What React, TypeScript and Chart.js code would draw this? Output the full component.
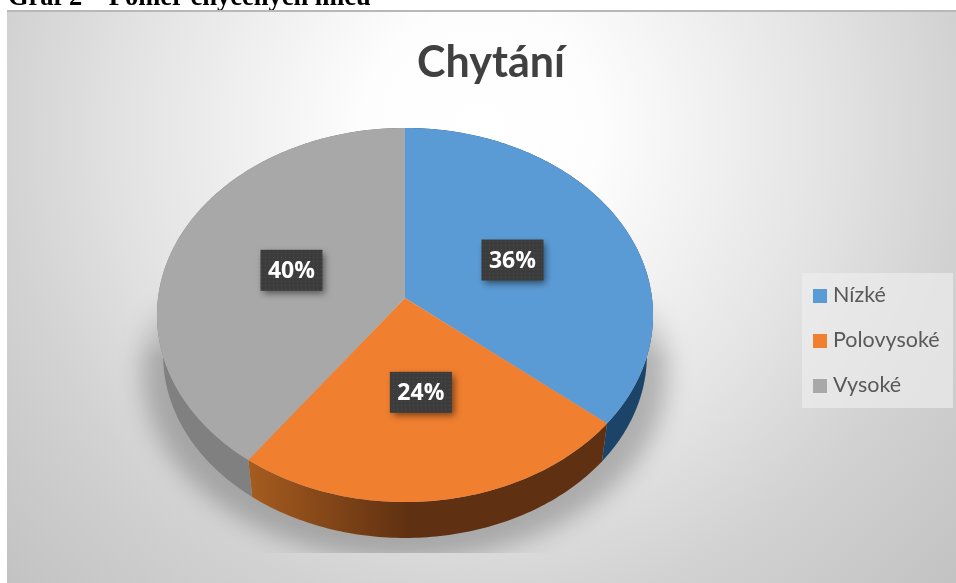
import React, { useEffect, useRef } from "react";
import { Chart, registerables } from "chart.js";

Chart.register(...registerables);

const categories = ["Nízké", "Polovysoké", "Vysoké"];
const shares = [36, 24, 40];
const sliceColors = ["#5b9bd5", "#f07f2f", "#a8a8a8"];
const sideColors = [
  ["#1f4c75", "#1c4468"],
  ["#a65c1f", "#5f3011"],
  ["#808080", "#727272"],
];
const headingText = "Graf 2 – Poměr chycených míčů";
const chartTitle = "Chytání";

// Tilted-disc projection: depth axis foreshortened, near edge slightly enlarged.
const TILT_X = 0.996;
const TILT_Y = 0.748;
const NEAR_GAIN = 0.0909;
// The lower rim sits further from the viewer, so it is a little smaller and shifted down.
const LOWER_SCALE = 0.975;
const LOWER_SHIFT = 41;

type Arc = { x: number; y: number; outerRadius: number; startAngle: number; endAngle: number };
type Pt = { x: number; y: number };

function project(arc: Arc, angle: number, rho = 1): Pt {
  const X = Math.cos(angle) * rho;
  const Y = Math.sin(angle) * rho;
  const w = 1 - NEAR_GAIN * Y;
  return {
    x: arc.x + (arc.outerRadius * TILT_X * X) / w,
    y: arc.y + (arc.outerRadius * TILT_Y * Y) / w,
  };
}

function lowered(arc: Arc, p: Pt): Pt {
  return {
    x: arc.x + (p.x - arc.x) * LOWER_SCALE,
    y: arc.y + (p.y - arc.y) * LOWER_SCALE + LOWER_SHIFT,
  };
}

function rim(ctx: CanvasRenderingContext2D, arc: Arc, from: number, to: number, lower: boolean, first: boolean) {
  const n = Math.max(8, Math.ceil(Math.abs(to - from) * 60));
  for (let i = 0; i <= n; i++) {
    let p = project(arc, from + ((to - from) * i) / n);
    if (lower) p = lowered(arc, p);
    if (i === 0 && first) ctx.moveTo(p.x, p.y);
    else ctx.lineTo(p.x, p.y);
  }
}

function labelBox(ctx: CanvasRenderingContext2D, cx: number, cy: number, text: string, dots: CanvasPattern | null) {
  const w = 62;
  const h = 41;
  ctx.save();
  ctx.shadowColor = "rgba(0,0,0,0.5)";
  ctx.shadowBlur = 7;
  ctx.shadowOffsetX = 3;
  ctx.shadowOffsetY = 3;
  ctx.fillStyle = "#3c3c3c";
  ctx.fillRect(cx - w / 2, cy - h / 2, w, h);
  ctx.restore();
  if (dots) {
    ctx.fillStyle = dots;
    ctx.fillRect(cx - w / 2, cy - h / 2, w, h);
  }
  ctx.fillStyle = "#ffffff";
  ctx.font = 'bold 23px "Open Sans"';
  ctx.textAlign = "center";
  ctx.textBaseline = "middle";
  ctx.fillText(text, cx, cy + 1);
}

const panelPlugin = {
  id: "panel",
  beforeDraw(chart: Chart) {
    const { ctx, width, height } = chart;
    ctx.save();
    ctx.fillStyle = "#ffffff";
    ctx.fillRect(0, 0, width, height);
    ctx.fillStyle = "#000000";
    ctx.font = 'bold 26.5px "Liberation Serif"';
    ctx.textAlign = "left";
    ctx.textBaseline = "alphabetic";
    ctx.fillText(headingText, 8, 4.5);

    // Panel with a soft light centre fading to grey at the corners.
    ctx.beginPath();
    ctx.rect(7, 10, width - 7, height - 10);
    ctx.clip();
    const g = ctx.createRadialGradient(480, 130, 0, 480, 130, 660);
    g.addColorStop(0, "#ffffff");
    g.addColorStop(0.18, "#fdfdfd");
    g.addColorStop(0.52, "#e4e4e4");
    g.addColorStop(0.73, "#d2d2d2");
    g.addColorStop(1, "#c2c2c2");
    ctx.fillStyle = g;
    ctx.fillRect(0, 0, width, height);
    ctx.fillStyle = "#b8b8b8";
    ctx.fillRect(7, 10, width - 7, 2);
    ctx.restore();
  },
  beforeDatasetDraw(chart: Chart) {
    const { ctx, width, height } = chart;
    const arcs = chart.getDatasetMeta(0).data as unknown as Arc[];
    const whole = arcs[0];

    // Soft floor shadow: a wider, lower disc that fades in downwards and stops at the floor edge.
    const layer = document.createElement("canvas");
    layer.width = width;
    layer.height = height;
    const lc = layer.getContext("2d")!;
    lc.filter = "blur(12px)";
    lc.fillStyle = "rgba(0,0,0,0.24)";
    lc.beginPath();
    lc.ellipse(whole.x, 372, 262, 188, 0, 0, Math.PI * 2);
    lc.fill();
    lc.filter = "none";
    lc.globalCompositeOperation = "destination-in";
    const fade = lc.createLinearGradient(0, 285, 0, 360);
    fade.addColorStop(0, "rgba(0,0,0,0)");
    fade.addColorStop(1, "rgba(0,0,0,1)");
    lc.fillStyle = fade;
    lc.fillRect(0, 0, width, height);
    ctx.save();
    ctx.beginPath();
    ctx.rect(7, 285, width - 7, 268);
    ctx.clip();
    ctx.drawImage(layer, 0, 0);
    ctx.restore();

    // Extruded side wall of each slice.
    arcs.forEach((arc, i) => {
      const a = project(arc, arc.startAngle);
      const b = project(arc, arc.endAngle);
      const left = Math.min(a.x, b.x);
      const right = Math.max(a.x, b.x);
      const g = ctx.createLinearGradient(left, 0, left + (right - left) * 0.45, 0);
      g.addColorStop(0, sideColors[i][0]);
      g.addColorStop(1, sideColors[i][1]);
      ctx.fillStyle = g;
      ctx.beginPath();
      rim(ctx, arc, arc.startAngle, arc.endAngle, false, true);
      rim(ctx, arc, arc.endAngle, arc.startAngle, true, false);
      ctx.closePath();
      ctx.fill();
    });

    // Top face of each slice.
    arcs.forEach((arc, i) => {
      ctx.fillStyle = sliceColors[i];
      ctx.beginPath();
      ctx.moveTo(arc.x, arc.y);
      rim(ctx, arc, arc.startAngle, arc.endAngle, false, false);
      ctx.closePath();
      ctx.fill();
    });
    return false;
  },
  afterDraw(chart: Chart) {
    const { ctx } = chart;
    const arcs = chart.getDatasetMeta(0).data as unknown as Arc[];
    ctx.save();

    const tile = document.createElement("canvas");
    tile.width = 4;
    tile.height = 4;
    const tc = tile.getContext("2d")!;
    tc.fillStyle = "rgba(255,255,255,0.09)";
    tc.fillRect(1, 1, 1, 1);
    const dots = ctx.createPattern(tile, "repeat");

    arcs.forEach((arc, i) => {
      const mid = (arc.startAngle + arc.endAngle) / 2;
      const p = project(arc, mid, 0.49);
      labelBox(ctx, p.x, p.y, `${shares[i]}%`, dots);
    });

    ctx.fillStyle = "#404040";
    ctx.font = 'bold 43px Lato';
    ctx.textAlign = "center";
    ctx.textBaseline = "alphabetic";
    ctx.fillText(chartTitle, 491, 77);

    ctx.fillStyle = "rgba(238,238,238,0.65)";
    ctx.fillRect(802, 273, 151, 135);
    ctx.textAlign = "left";
    ctx.font = '21.5px Lato';
    categories.forEach((name, i) => {
      const y = 295 + i * 45;
      ctx.fillStyle = sliceColors[i];
      ctx.fillRect(813, y - 6, 14, 14);
      ctx.fillStyle = "#595959";
      ctx.textBaseline = "middle";
      ctx.fillText(name, 833, y);
    });
    ctx.restore();
  },
};

export default function App() {
  const ref = useRef<HTMLCanvasElement>(null);
  useEffect(() => {
    const chart = new Chart(ref.current!, {
      type: "pie",
      data: {
        labels: categories,
        datasets: [{ data: shares, backgroundColor: sliceColors, borderWidth: 0 }],
      },
      options: {
        animation: false,
        responsive: false,
        layout: { padding: { left: 157, right: 303, top: 50, bottom: 37 } },
        plugins: { legend: { display: false }, title: { display: false }, tooltip: { enabled: false } },
      },
      plugins: [panelPlugin],
    });
    return () => chart.destroy();
  }, []);
  return (
    <div style={{ position: "fixed", left: 0, top: 0, width: 956, height: 583 }}>
      <canvas ref={ref} width={956} height={583} style={{ display: "block" }} />
    </div>
  );
}
